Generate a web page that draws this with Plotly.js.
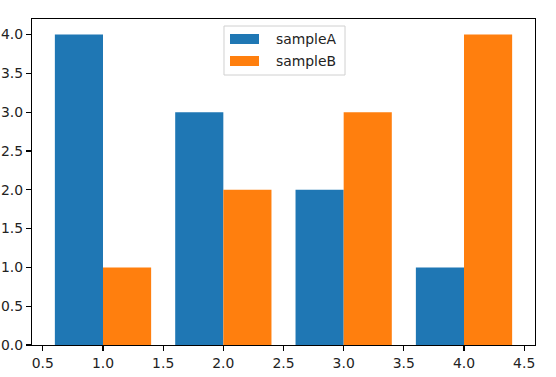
<!DOCTYPE html>
<html>
<head>
<meta charset="utf-8">
<script src="https://cdn.plot.ly/plotly-3.0.1.min.js"></script>
<style>html,body{margin:0;padding:0;background:#fff;}#chart{width:556px;height:377px;}</style>
</head>
<body>
<div id="chart"></div>
<script>
const positions = [1, 2, 3, 4];
const sampleA = [4, 3, 2, 1];
const sampleB = [1, 2, 3, 4];
const seriesNames = ['sampleA', 'sampleB'];
const xTicks = [0.5, 1.0, 1.5, 2.0, 2.5, 3.0, 3.5, 4.0, 4.5];
const yTicks = [0.0, 0.5, 1.0, 1.5, 2.0, 2.5, 3.0, 3.5, 4.0];
const colors = ['#1f77b4', '#ff7f0e'];

const FONT = 'DejaVu Sans, sans-serif';
const FS = 13.9;

const traces = [
  {type: 'bar', x: positions, y: sampleA, name: seriesNames[0], width: 0.4, offset: -0.4,
   marker: {color: colors[0], line: {width: 0}}, hoverinfo: 'none'},
  {type: 'bar', x: positions, y: sampleB, name: seriesNames[1], width: 0.4, offset: 0,
   marker: {color: colors[1], line: {width: 0}}, hoverinfo: 'none'}
];

const axisCommon = {
  showgrid: false, zeroline: false, showline: true, mirror: true,
  linecolor: '#000', linewidth: 1.1, ticks: 'outside', ticklen: 5, tickwidth: 1.1,
  tickcolor: '#000', tickfont: {family: FONT, size: FS, color: '#222'}, tickmode: 'array'
};

const layout = {
  width: 556, height: 377,
  margin: {l: 32, r: 21, t: 19, b: 32, pad: 0},
  paper_bgcolor: '#fff', plot_bgcolor: '#fff',
  showlegend: false,
  barmode: 'overlay',
  xaxis: Object.assign({}, axisCommon, {range: [0.41, 4.59], tickvals: xTicks, ticktext: xTicks.map(v => v.toFixed(1))}),
  yaxis: Object.assign({}, axisCommon, {range: [0, 4.2], tickvals: yTicks, ticktext: yTicks.map(v => v.toFixed(1))}),
  shapes: [
    {type: 'rect', xref: 'paper', yref: 'paper', x0: 0.3817, x1: 0.6223, y0: 0.8282, y1: 0.9785,
     line: {color: '#d0d0d0', width: 1}, fillcolor: 'rgba(255,255,255,0.8)'},
    {type: 'rect', xref: 'paper', yref: 'paper', x0: 0.3936, x1: 0.4513, y0: 0.9233, y1: 0.954,
     line: {width: 0}, fillcolor: colors[0]},
    {type: 'rect', xref: 'paper', yref: 'paper', x0: 0.3936, x1: 0.4513, y0: 0.8558, y1: 0.8865,
     line: {width: 0}, fillcolor: colors[1]}
  ],
  annotations: [
    {xref: 'paper', yref: 'paper', x: 0.4811, y: 0.9387, xanchor: 'left', yanchor: 'middle',
     text: seriesNames[0], showarrow: false, font: {family: FONT, size: FS, color: '#222'}},
    {xref: 'paper', yref: 'paper', x: 0.4811, y: 0.8712, xanchor: 'left', yanchor: 'middle',
     text: seriesNames[1], showarrow: false, font: {family: FONT, size: FS, color: '#222'}}
  ]
};

Plotly.newPlot('chart', traces, layout, {staticPlot: true, displayModeBar: false});
</script>
</body>
</html>
